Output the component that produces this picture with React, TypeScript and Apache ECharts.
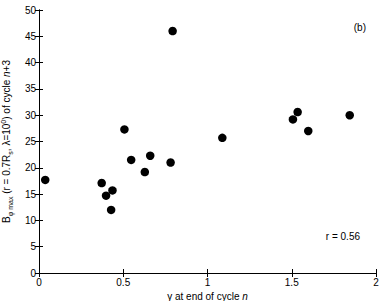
import React, { useEffect, useRef } from "react";
import * as echarts from "echarts";

const gammaValues = [0.037, 0.372, 0.398, 0.436, 0.428, 0.547, 0.628, 0.66, 0.781, 0.507, 0.793, 1.088, 1.507, 1.535, 1.598, 1.844];
const bphiValues = [17.7, 17.1, 14.7, 15.7, 12.0, 21.5, 19.2, 22.3, 21.0, 27.3, 46.0, 25.7, 29.2, 30.6, 27.0, 30.0];
const xTicks = { min: 0, max: 2, interval: 0.5 };
const yTicks = { min: 0, max: 50, interval: 5 };
const corrLabel = "r = 0.56";
const panelLabel = "(b)";

const FONT = "Liberation Sans, Arial, Helvetica, sans-serif";

export default function App() {
  const ref = useRef<HTMLDivElement>(null);
  useEffect(() => {
    if (!ref.current) return;
    const chart = echarts.init(ref.current, null, { renderer: "svg" });
    const data = gammaValues.map((g, i) => [g, bphiValues[i]]);
    const axisLine = { show: true, lineStyle: { color: "#000", width: 1 } };
    const tick = { show: true, inside: true, length: 4, lineStyle: { color: "#000" } };
    const label = { color: "#000", fontSize: 10, fontFamily: FONT };
    chart.setOption({
      animation: false,
      backgroundColor: "#fff",
      textStyle: { fontFamily: FONT },
      grid: { left: 39, right: 6, top: 10, bottom: 28, containLabel: false, outerBoundsMode: "none" },
      xAxis: [
        {
          type: "value", min: xTicks.min, max: xTicks.max, interval: xTicks.interval,
          axisLine, axisTick: tick, splitLine: { show: false },
          axisLabel: { ...label, margin: 4 },
          name: "{g|γ at end of cycle }{i|n}",
          nameLocation: "middle", nameGap: 13,
          nameTextStyle: {
            rich: {
              g: { fontSize: 10, fontFamily: FONT, color: "#000" },
              i: { fontSize: 10, fontFamily: FONT, color: "#000", fontStyle: "italic" },
            },
          },
        },
        {
          type: "value", position: "top", min: xTicks.min, max: xTicks.max, interval: xTicks.interval,
          axisLine, axisTick: tick, axisLabel: { show: false }, splitLine: { show: false },
        },
      ],
      yAxis: [
        {
          type: "value", min: yTicks.min, max: yTicks.max, interval: yTicks.interval,
          axisLine, axisTick: tick, splitLine: { show: false },
          axisLabel: { ...label, margin: 3 },
          name: "{n|B}{s|φ max}{n| (r = 0.7R}{s|s}{n|, λ=10}{p|0}{n|) of cycle }{i|n}{n|+3}",
          nameLocation: "middle", nameGap: 21, nameRotate: 90,
          nameTextStyle: {
            rich: {
              n: { fontSize: 10, fontFamily: FONT, color: "#000", lineHeight: 14, verticalAlign: "middle" },
              i: { fontSize: 10, fontFamily: FONT, color: "#000", lineHeight: 14, verticalAlign: "middle", fontStyle: "italic" },
              s: { fontSize: 7, fontFamily: FONT, color: "#000", lineHeight: 14, verticalAlign: "bottom" },
              p: { fontSize: 7, fontFamily: FONT, color: "#000", lineHeight: 14, verticalAlign: "top" },
            },
          },
        },
        {
          type: "value", position: "right", min: yTicks.min, max: yTicks.max, interval: yTicks.interval,
          axisLine, axisTick: tick, axisLabel: { show: false }, splitLine: { show: false },
        },
      ],
      graphic: [
        { type: "text", right: 16, top: 22, style: { text: panelLabel, fontSize: 10, fontFamily: FONT, fill: "#000" } },
        { type: "text", right: 22, top: 231, style: { text: corrLabel, fontSize: 10, fontFamily: FONT, fill: "#000" } },
      ],
      series: [
        {
          type: "scatter",
          data,
          symbol: "circle",
          symbolSize: 8.5,
          itemStyle: { color: "#000", opacity: 1 },
        },
      ],
    });
    return () => chart.dispose();
  }, []);
  return <div ref={ref} style={{ position: "absolute", left: 0, top: 0, width: 382, height: 301 }} />;
}
